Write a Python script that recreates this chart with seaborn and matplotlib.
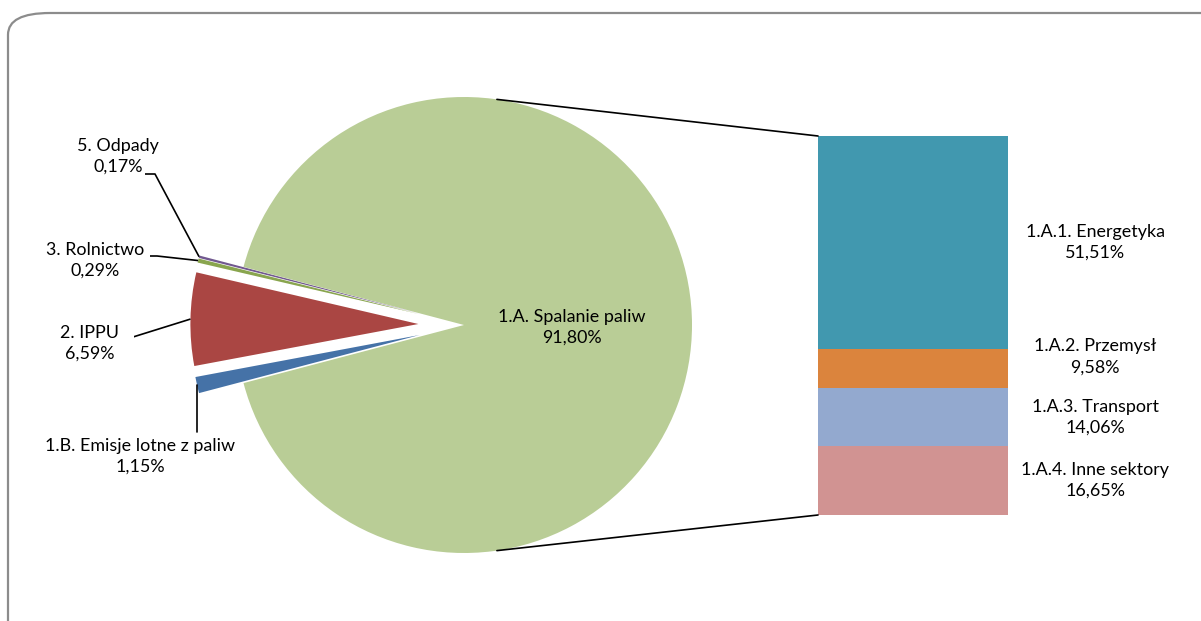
import numpy as np
import matplotlib
matplotlib.use("Agg")
import matplotlib.pyplot as plt
from matplotlib.patches import FancyBboxPatch, ConnectionPatch
import seaborn as sns

# ---------------- data ----------------
pie_labels = ["5. Odpady", "3. Rolnictwo", "2. IPPU", "1.B. Emisje lotne z paliw", "1.A. Spalanie paliw"]
pie_values = [0.17, 0.29, 6.59, 1.15, 91.80]
pie_colors = ["#71588F", "#89A54E", "#AA4643", "#4572A7", "#B9CD96"]

bar_labels = ["1.A.1. Energetyka", "1.A.2. Przemysł", "1.A.3. Transport", "1.A.4. Inne sektory"]
bar_values = [51.51, 9.58, 14.06, 16.65]
bar_colors = ["#4198AF", "#DB843D", "#93A9CF", "#D19392"]

def pl(v):
    return f"{v:.2f}".replace(".", ",") + "%"

# ---------------- style ----------------
sns.set_theme(style="white")
plt.rcParams["font.family"] = ["Lato", "DejaVu Sans"]
FS = 12.9
LS = 1.38

W, H = 1201, 621
fig = plt.figure(figsize=(W / 100, H / 100), dpi=100)
fig.patch.set_facecolor("white")

# rounded frame
frame = FancyBboxPatch((8 / W, -0.2), 1.3, (H - 13) / H + 0.2,
                       boxstyle="round,pad=0,rounding_size=0.035",
                       transform=fig.transFigure, facecolor="none",
                       edgecolor="#8C8C8C", linewidth=1.6, zorder=0)
fig.patches.append(frame)

# ---------------- pie ----------------
R = 228.0
cx, cy = 464.0, 325.0
half = 330.0
ax_pie = fig.add_axes([(cx - half) / W, (H - cy - half) / H, 2 * half / W, 2 * half / H])
ax_pie.set_facecolor("none")

small_total = sum(pie_values[:-1])
start = 180 - small_total / sum(pie_values) * 360 / 2
explode = [0.2, 0.2, 0.2, 0.2, 0.0]
wedges, _ = ax_pie.pie(pie_values, colors=pie_colors, startangle=start, counterclock=True,
                       explode=explode, radius=1.0, wedgeprops=dict(linewidth=0))
lim = half / R
ax_pie.set_xlim(-lim, lim)
ax_pie.set_ylim(-lim, lim)
ax_pie.axis("off")

def px2d(px, py):
    return ((px - cx) / R, (cy - py) / R)

# main slice label
tx, ty = px2d(572, 327)
ax_pie.text(tx, ty, f"{pie_labels[-1]}\n{pl(pie_values[-1])}", ha="center", va="center",
            fontsize=FS, linespacing=LS, color="black")

# small slice labels: (text center px, stub start px, stub end px or None)
label_layout = [
    ((118, 156), (145, 174), (155, 174)),
    ((95, 260), (150, 256), (157, 256)),
    ((90, 343), (123, 337), (133, 337)),
    ((140, 456), None, None),
]
for i, w in enumerate(wedges[:-1]):
    mid = np.deg2rad((w.theta1 + w.theta2) / 2)
    ox, oy = w.center
    target = (ox + np.cos(mid), oy + np.sin(mid))
    (tpx, tpy), s0, s1 = label_layout[i]
    lx, ly = px2d(tpx, tpy)
    ax_pie.text(lx, ly, f"{pie_labels[i]}\n{pl(pie_values[i])}", ha="center", va="center",
                fontsize=FS, linespacing=LS, color="black")
    if s0 is not None:
        p0 = px2d(*s0)
        p1 = px2d(*s1)
        ax_pie.plot([p0[0], p1[0], target[0]], [p0[1], p1[1], target[1]],
                    color="black", lw=1.2, solid_capstyle="butt")
    else:
        _, yb = px2d(0, 432)
        ax_pie.plot([target[0], target[0]], [yb, target[1]], color="black", lw=1.2)

# ---------------- bar ----------------
bx0, bx1, by0, by1 = 818, 1008, 136, 515
ax_bar = fig.add_axes([bx0 / W, (H - by1) / H, (bx1 - bx0) / W, (by1 - by0) / H])
ax_bar.set_facecolor("none")
# stack bottom-to-top: last listed at bottom
order = list(range(len(bar_values)))[::-1]
cum = np.cumsum([bar_values[i] for i in order])
tops = {order[k]: cum[k] for k in range(len(order))}
for i in range(len(bar_values)):
    sns.barplot(x=[0], y=[tops[i]], color=bar_colors[i], saturation=1, width=1,
                linewidth=0, ax=ax_bar)
ax_bar.set_xlim(-0.5, 0.5)
ax_bar.set_ylim(0, sum(bar_values))
ax_bar.axis("off")

label_shift = [0, 2.8, 0, 0]
for i in range(len(bar_values)):
    yc = tops[i] - bar_values[i] / 2 + label_shift[i]
    ax_bar.text(0.958, yc, f"{bar_labels[i]}\n{pl(bar_values[i])}", ha="center", va="center",
                fontsize=FS, linespacing=LS, color="black", clip_on=False)

# connector lines from main slice to bar
ang = np.deg2rad(81.7)
for sgn, yb in [(1, sum(bar_values)), (-1, 0)]:
    con = ConnectionPatch(xyA=(np.cos(ang), sgn * np.sin(ang)), coordsA=ax_pie.transData,
                          xyB=(-0.5, yb), coordsB=ax_bar.transData,
                          color="black", lw=1.2)
    fig.add_artist(con)

fig.savefig("out.png", dpi=100, facecolor="white")
